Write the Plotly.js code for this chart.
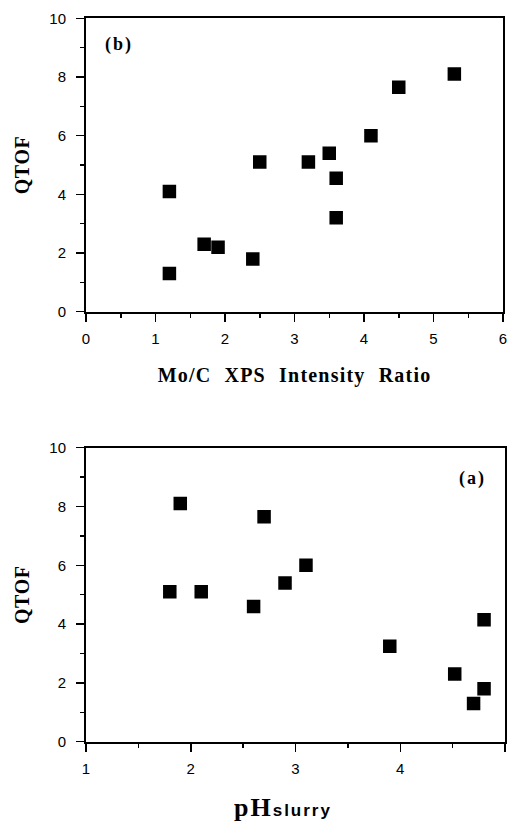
<!DOCTYPE html>
<html>
<head>
<meta charset="utf-8">
<script src="https://cdn.plot.ly/plotly-3.0.1.min.js"></script>
<style>
html,body{margin:0;padding:0;background:#fff;}
#chart{width:508px;height:822px;}
#chart .xtitle{letter-spacing:1.2px;word-spacing:7px;}
#chart .ytitle,#chart .y2title{letter-spacing:0.6px;}
#chart .annotation-text{letter-spacing:2px;}
</style>
</head>
<body>
<div id="chart"></div>
<script>
// Panel (b): QTOF vs Mo/C XPS intensity ratio
const moCRatio = [1.2, 1.2, 1.7, 1.9, 2.4, 2.5, 3.2, 3.5, 3.6, 3.6, 4.1, 4.5, 5.3];
const qtofB    = [4.1, 1.3, 2.3, 2.2, 1.8, 5.1, 5.1, 5.4, 4.55, 3.2, 6.0, 7.65, 8.1];
// Panel (a): QTOF vs pH of slurry
const phSlurry = [1.8, 1.9, 2.1, 2.6, 2.7, 2.9, 3.1, 3.9, 4.52, 4.7, 4.8, 4.8];
const qtofA    = [5.1, 8.1, 5.1, 4.6, 7.65, 5.4, 6.0, 3.25, 2.3, 1.3, 1.8, 4.15];
const xTicksB = [0, 1, 2, 3, 4, 5, 6];
const xTicksA = [1, 2, 3, 4, 5];
const yTicks = [0, 2, 4, 6, 8, 10];

const marker = {symbol: 'square', size: 13.5, color: '#000'};
const data = [
  {x: moCRatio, y: qtofB, type: 'scatter', mode: 'markers', marker: marker, xaxis: 'x', yaxis: 'y', hoverinfo: 'x+y'},
  {x: phSlurry, y: qtofA, type: 'scatter', mode: 'markers', marker: marker, xaxis: 'x2', yaxis: 'y2', hoverinfo: 'x+y'}
];

const tickFont = {family: 'Liberation Sans, Arial, sans-serif', size: 15, color: '#000'};
const serifBold = function (s) { return {family: 'Liberation Serif, Times New Roman, serif', size: s, color: '#000', weight: 'bold'}; };

function axisBase(extra) {
  return Object.assign({
    showline: true, linecolor: '#000', linewidth: 2, mirror: true,
    ticks: 'outside', ticklen: 8, tickwidth: 1.5, tickcolor: '#000',
    showgrid: false, zeroline: false, tickfont: tickFont, fixedrange: true
  }, extra);
}
const minorX = {dtick: 0.5, tick0: 0, ticks: 'outside', ticklen: 4, tickwidth: 1.5, tickcolor: '#000'};
const minorY = {dtick: 1, tick0: 0, ticks: 'outside', ticklen: 4, tickwidth: 1.5, tickcolor: '#000'};

const layout = {
  width: 508, height: 822,
  margin: {l: 0, r: 0, t: 0, b: 0},
  paper_bgcolor: '#fff', plot_bgcolor: '#fff',
  showlegend: false,
  font: {family: 'Liberation Serif, serif', color: '#000'},
  xaxis: axisBase({
    domain: [86/508, 503/508], anchor: 'y', range: [0, 6],
    tickvals: xTicksB, ticktext: xTicksB.map(String), ticklabelstandoff: 4,
    minor: minorX,
    title: {text: 'Mo/C XPS Intensity Ratio', font: serifBold(20), standoff: 22}
  }),
  yaxis: axisBase({
    domain: [1 - 311.7/822, 1 - 18.3/822], anchor: 'x', range: [0, 10],
    tickvals: yTicks, ticktext: yTicks.map(String), ticklabelstandoff: 7,
    minor: minorY,
    title: {text: 'QTOF', font: serifBold(20), standoff: 14}
  }),
  xaxis2: axisBase({
    domain: [86/508, 505/508], anchor: 'y2', range: [1, 5],
    tickvals: xTicksA, ticktext: xTicksA.map(String), ticklabelstandoff: 4,
    minor: minorX
  }),
  yaxis2: axisBase({
    domain: [1 - 741.7/822, 1 - 447.7/822], anchor: 'x2', range: [0, 10],
    tickvals: yTicks, ticktext: yTicks.map(String), ticklabelstandoff: 7,
    minor: minorY,
    title: {text: 'QTOF', font: serifBold(20), standoff: 14}
  }),
  annotations: [
    {text: '(b)', xref: 'x', yref: 'y', x: 0.29, y: 9.1, xanchor: 'left', yanchor: 'middle', showarrow: false,
     font: serifBold(18)},
    {text: '(a)', xref: 'x2', yref: 'y2', x: 4.81, y: 8.95, xanchor: 'right', yanchor: 'middle', showarrow: false,
     font: serifBold(18)},
    {text: 'pH<span style="font-family:Liberation Sans, Arial, sans-serif;font-size:17px;font-weight:bold">slurry</span>',
     xref: 'paper', yref: 'paper', x: 283/508, y: 1 - 807/822, xanchor: 'center', yanchor: 'middle', showarrow: false,
     font: serifBold(26)}
  ]
};

Plotly.newPlot('chart', data, layout, {displayModeBar: false, staticPlot: true});
</script>
</body>
</html>
